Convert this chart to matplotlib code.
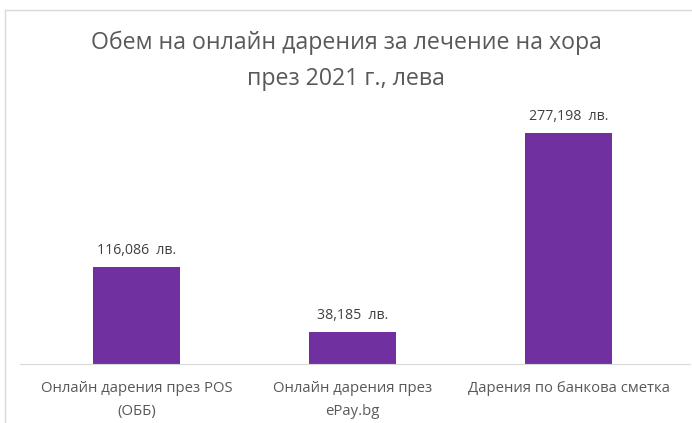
import matplotlib.pyplot as plt
from matplotlib.lines import Line2D

plt.rcParams['font.family'] = ['Open Sans', 'Noto Sans', 'DejaVu Sans']

# данни
categories = ['Онлайн дарения през POS\n(ОББ)', 'Онлайн дарения през\nePay.bg', 'Дарения по банкова сметка']
values = [116086, 38185, 277198]
title = 'Обем на онлайн дарения за лечение на хора\nпрез 2021 г., лева'

W, H = 692, 423
fig = plt.figure(figsize=(W / 100, H / 100), dpi=100)
ax = fig.add_axes([20 / W, 59 / H, 670 / W, 250 / H])

x = range(len(values))
ax.bar(x, values, width=0.40, color='#7030A0', zorder=2)
for i, v in enumerate(values):
    ax.text(i, v + 11000, f'{v:,}  лв.', ha='center', va='bottom', fontsize=10.2, color='#404040')

ax.set_xlim(-0.54, 2.5625)
ax.set_ylim(0, 300000)
ax.set_xticks(list(x))
ax.set_xticklabels(categories, fontsize=10.7, color='#595959', linespacing=1.75)
ax.tick_params(axis='x', length=0, pad=12)
ax.set_yticks([])
for s in ['top', 'right', 'left']:
    ax.spines[s].set_visible(False)
ax.spines['bottom'].set_color('#D9D9D9')

fig.text(0.5, 1 - 61 / H, title, ha='center', va='center', fontsize=16.7,
         color='#595959', linespacing=1.65)

# рамка на диаграмата
fig.add_artist(Line2D([5 / W, 1], [1 - 10 / H, 1 - 10 / H], color='#D9D9D9', lw=1))
fig.add_artist(Line2D([5 / W, 5 / W], [0, 1 - 10 / H], color='#D9D9D9', lw=1))

fig.savefig('out.png', dpi=100)
